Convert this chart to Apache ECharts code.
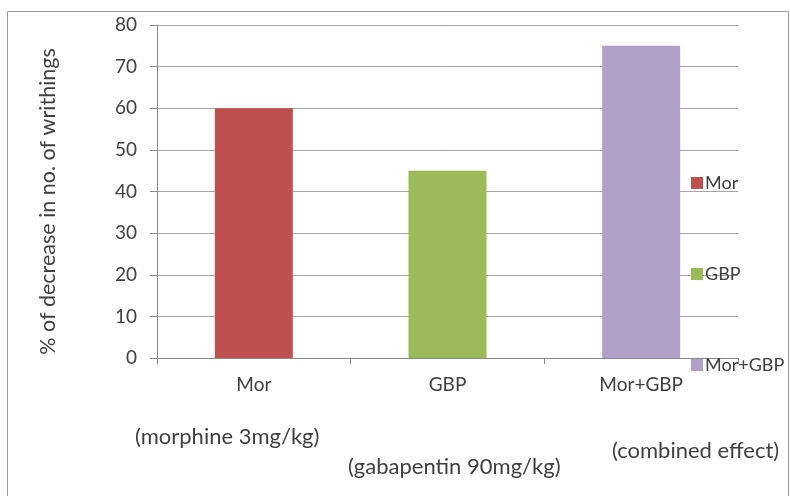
<!DOCTYPE html>
<html>
<head>
<meta charset="utf-8">
<script src="https://cdn.jsdelivr.net/npm/echarts@6/dist/echarts.min.js"></script>
<style>
html,body{margin:0;padding:0;background:#fff;}
#chart{width:790px;height:496px;}
</style>
</head>
<body>
<div id="chart"></div>
<script>
// Treatment groups and their % decrease in number of writhings
const categories = ['Mor', 'GBP', 'Mor+GBP'];
const seriesNames = ['Mor', 'GBP', 'Mor+GBP'];
const values = [60, 45, 75];
const colors = ['#c0504d', '#9bbb59', '#b1a0c7'];
const doseNotes = ['(morphine 3mg/kg)', '(gabapentin 90mg/kg)', '(combined effect)'];
const yTicks = { min: 0, max: 80, interval: 10 };

const FONT = 'Lato, "Open Sans", sans-serif';
const TXT = '#404040';
const FS = 19;
const NOTE_FS = 22;

const chart = echarts.init(document.getElementById('chart'));

// one series per group so each gets its own legend entry; overlap them on the category slots
const series = seriesNames.map((name, i) => ({
  name: name,
  type: 'bar',
  barWidth: 78,
  barGap: '-100%',
  itemStyle: { color: colors[i] },
  data: categories.map((c, j) => (j === i ? values[i] : null))
}));

chart.setOption({
  animation: false,
  backgroundColor: '#fff',
  textStyle: { fontFamily: FONT },
  grid: { left: 157, right: 52, top: 25, bottom: 138 },
  legend: {
    orient: 'vertical',
    left: 691,
    top: 174,
    padding: 0,
    itemWidth: 12,
    itemHeight: 12,
    itemGap: 73,
    icon: 'rect',
    textStyle: { fontFamily: FONT, fontSize: 18, color: TXT, padding: [0, 0, 0, -3] },
    data: seriesNames
  },
  xAxis: {
    type: 'category',
    data: categories,
    axisLine: { lineStyle: { color: '#888', width: 1 } },
    axisTick: { show: true, length: 6, lineStyle: { color: '#888' } },
    axisLabel: { fontFamily: FONT, fontSize: FS, color: TXT, margin: 17 }
  },
  yAxis: {
    type: 'value',
    min: yTicks.min,
    max: yTicks.max,
    interval: yTicks.interval,
    name: '% of decrease in no. of writhings',
    nameLocation: 'middle',
    nameGap: 98,
    nameTextStyle: { fontFamily: FONT, fontSize: 21.5, color: TXT, padding: [0, 20, 0, 0] },
    axisLine: { show: true, lineStyle: { color: '#888', width: 1 } },
    axisTick: { show: true, length: 7, lineStyle: { color: '#888' } },
    axisLabel: { fontFamily: FONT, fontSize: FS, color: TXT, margin: 20 },
    splitLine: { lineStyle: { color: '#a6a6a6', width: 1 } }
  },
  series: series,
  graphic: [
    {
      type: 'rect',
      silent: true,
      z: -10,
      shape: { x: 7.5, y: 11.5, width: 781, height: 500 },
      style: { fill: 'none', stroke: '#9a9a9a', lineWidth: 1 }
    },
    {
      type: 'text', left: 135, top: 426,
      style: { text: doseNotes[0], fontFamily: FONT, fontSize: NOTE_FS, fill: TXT }
    },
    {
      type: 'text', left: 348, top: 456,
      style: { text: doseNotes[1], fontFamily: FONT, fontSize: NOTE_FS, fill: TXT }
    },
    {
      type: 'text', left: 612, top: 440,
      style: { text: doseNotes[2], fontFamily: FONT, fontSize: NOTE_FS, fill: TXT }
    }
  ]
});
</script>
</body>
</html>
